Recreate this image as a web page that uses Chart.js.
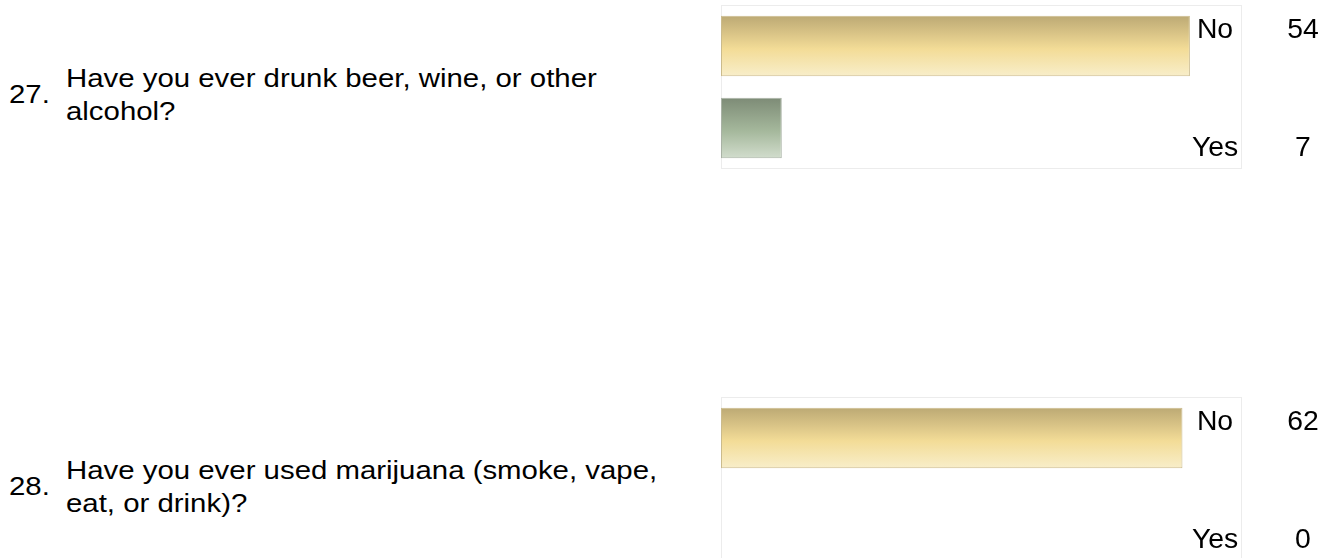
<!DOCTYPE html>
<html>
<head>
<meta charset="utf-8">
<script src="https://cdn.jsdelivr.net/npm/chart.js@4/dist/chart.umd.min.js"></script>
<style>
    html, body { margin: 0; padding: 0; background: #fff; overflow: hidden; width: 1335px; height: 558px; }
    .q { position: absolute; font-family: "Liberation Sans", Arial, sans-serif; font-size: 26px; line-height: 33px; color: #000;
         transform: scaleX(1.13); transform-origin: 0 0; white-space: nowrap; }
    .box { position: absolute; left: 0; width: 1335px; height: 180px; }
</style>
</head>
<body>
<div class="q" style="left:9px; top:78px;">27.</div>
<div class="q" style="left:66px; top:62px;">Have you ever drunk beer, wine, or other<br>alcohol?</div>
<div class="q" style="left:9px; top:470px;">28.</div>
<div class="q" style="left:66px; top:454px;">Have you ever used marijuana (smoke, vape,<br>eat, or drink)?</div>

<div class="box" style="top:0px;"><canvas id="alcoholChart"></canvas></div>
<div class="box" style="top:392px;"><canvas id="marijuanaChart"></canvas></div>

<script>
// respuestas y conteos
const answerLabels = ['No', 'Yes'];
const alcoholCounts = [54, 7];
const marijuanaCounts = [62, 0];
const axisMax = [60, 70];

// colores de barras (arriba, centro, abajo)
const barStops = [
    ['#bca974', '#f3dc97', '#f8eeca'],
    ['#7d8b76', '#a5b89c', '#d2ddcd']
];
const barBorders = ['#cbbb8c', '#a9b2a5'];

function barGradient(context) {
    const chart = context.chart;
    const { ctx, chartArea, scales } = chart;
    const i = context.dataIndex;
    if (!chartArea || !scales.y) return barStops[i % 2][1];
    const band = chartArea.height / chart.data.labels.length;
    const half = band * 0.74 / 2;
    const yc = scales.y.getPixelForValue(i);
    const g = ctx.createLinearGradient(0, yc - half, 0, yc + half);
    const s = barStops[i % 2];
    g.addColorStop(0, s[0]);
    g.addColorStop(0.55, s[1]);
    g.addColorStop(1, s[2]);
    return g;
}

// marco gris claro + etiquetas a la derecha
const framePlugin = {
    id: 'frame',
    beforeDatasetsDraw(chart) {
        const { ctx, chartArea } = chart;
        ctx.save();
        ctx.strokeStyle = '#ececec';
        ctx.lineWidth = 1;
        ctx.strokeRect(chartArea.left + 0.5, chartArea.top + 0.5, chartArea.width - 1, chartArea.height - 1);
        ctx.restore();
    },
    afterDatasetsDraw(chart) {
        const { ctx, chartArea, scales } = chart;
        const labels = chart.data.labels;
        const values = chart.data.datasets[0].data;
        const band = chartArea.height / labels.length;
        const half = band * 0.74 / 2;
        ctx.save();
        ctx.fillStyle = '#000';
        ctx.font = '27px "Liberation Sans", Arial, sans-serif';
        ctx.textAlign = 'center';
        ctx.textBaseline = 'alphabetic';
        labels.forEach((lab, i) => {
            const yc = scales.y.getPixelForValue(i);
            const y = i === 0 ? yc - half + 22 : yc + half - 2;
            [[lab, chartArea.right - 27], [String(values[i]), chartArea.right + 61]].forEach(([txt, x]) => {
                ctx.save();
                ctx.translate(x, y);
                ctx.scale(1.05, 1);
                ctx.fillText(txt, 0, 0);
                ctx.restore();
            });
        });
        ctx.restore();
    }
};

function makeChart(id, counts, max) {
    const ctx = document.getElementById(id).getContext('2d');
    return new Chart(ctx, {
        type: 'bar',
        data: {
            labels: answerLabels,
            datasets: [{
                data: counts,
                backgroundColor: barGradient,
                borderColor: (c) => barBorders[c.dataIndex % 2],
                borderWidth: 1,
                borderSkipped: false,
                categoryPercentage: 1,
                barPercentage: 0.74
            }]
        },
        options: {
            indexAxis: 'y',
            responsive: true,
            maintainAspectRatio: false,
            animation: false,
            layout: { padding: { left: 721, right: 93, top: 5, bottom: 11 } },
            scales: {
                x: { display: false, min: 0, max: max },
                y: { display: false }
            },
            plugins: { legend: { display: false }, tooltip: { enabled: false } }
        },
        plugins: [framePlugin]
    });
}

makeChart('alcoholChart', alcoholCounts, axisMax[0]);
makeChart('marijuanaChart', marijuanaCounts, axisMax[1]);
</script>
</body>
</html>
